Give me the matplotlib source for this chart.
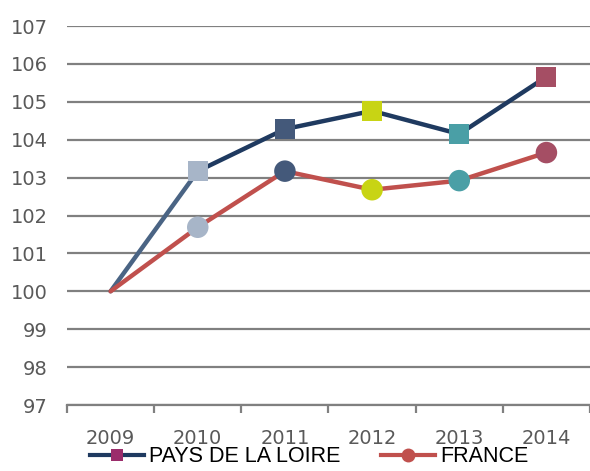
import matplotlib
matplotlib.use('Agg')
import matplotlib.pyplot as plt
from matplotlib.lines import Line2D

# datos
annees = ['2009', '2010', '2011', '2012', '2013', '2014']
pdl = [100, 103.17, 104.28, 104.76, 104.15, 105.66]
france = [100, 101.69, 103.17, 102.68, 102.92, 103.66]

# couleurs des points (2010 -> 2014)
couleurs_points = ['#a7b5c8', '#44597a', '#c8d414', '#4a9fa6', '#a54e64']

fig = plt.figure(figsize=(5.9, 4.71), dpi=100)
ax = fig.add_axes([67/590, 66/471, 1 - 67/590, (405-26)/471])

x = list(range(len(annees)))

# lignes
ax.plot(x[:2], pdl[:2], color='#4a6484', lw=3.2, solid_capstyle='round', zorder=3)
ax.plot(x[1:], pdl[1:], color='#1f3a60', lw=3.2, solid_capstyle='round', zorder=3)
ax.plot(x, france, color='#c0504d', lw=3.2, solid_capstyle='round', zorder=3)

# marqueurs
ax.scatter(x[1:], pdl[1:], marker='s', s=210, c=couleurs_points, zorder=4, linewidths=0)
ax.scatter(x[1:], france[1:], marker='o', s=240, c=couleurs_points, zorder=4, linewidths=0)

ax.set_xlim(-0.5, 5.5)
ax.set_ylim(97, 107)
ax.set_yticks(range(97, 108))
ax.set_xticks(x)
ax.set_xticklabels(annees)
ax.set_xticks([i - 0.5 for i in range(7)], minor=True)

ax.grid(axis='y', color='#808080', lw=1.6, zorder=1)
for s in ['left', 'right', 'top']:
    ax.spines[s].set_visible(False)
ax.spines['bottom'].set_color('#808080')
ax.spines['bottom'].set_linewidth(1.6)
ax.tick_params(axis='y', length=0, pad=14, labelsize=14, labelcolor='#595959')
ax.tick_params(axis='x', which='major', length=0, pad=17, labelsize=14, labelcolor='#595959')
ax.tick_params(axis='x', which='minor', length=6, width=1.6, color='#808080')

# legende
h1 = Line2D([], [], color='#1f3a60', lw=3, marker='s', markersize=9,
            markerfacecolor='#9b2d6b', markeredgewidth=0)
h2 = Line2D([], [], color='#c0504d', lw=3, marker='o', markersize=10,
            markerfacecolor='#c0504d', markeredgewidth=0)
fig.legend([h1, h2], ['PAYS DE LA LOIRE', 'FRANCE'], loc='lower center',
           bbox_to_anchor=(0.524, -0.033), ncol=2, frameon=False,
           prop={'family': 'Liberation Sans', 'size': 15.5},
           handlelength=2.5, handletextpad=0.25, columnspacing=1.9)

fig.savefig('out.png', dpi=100)
